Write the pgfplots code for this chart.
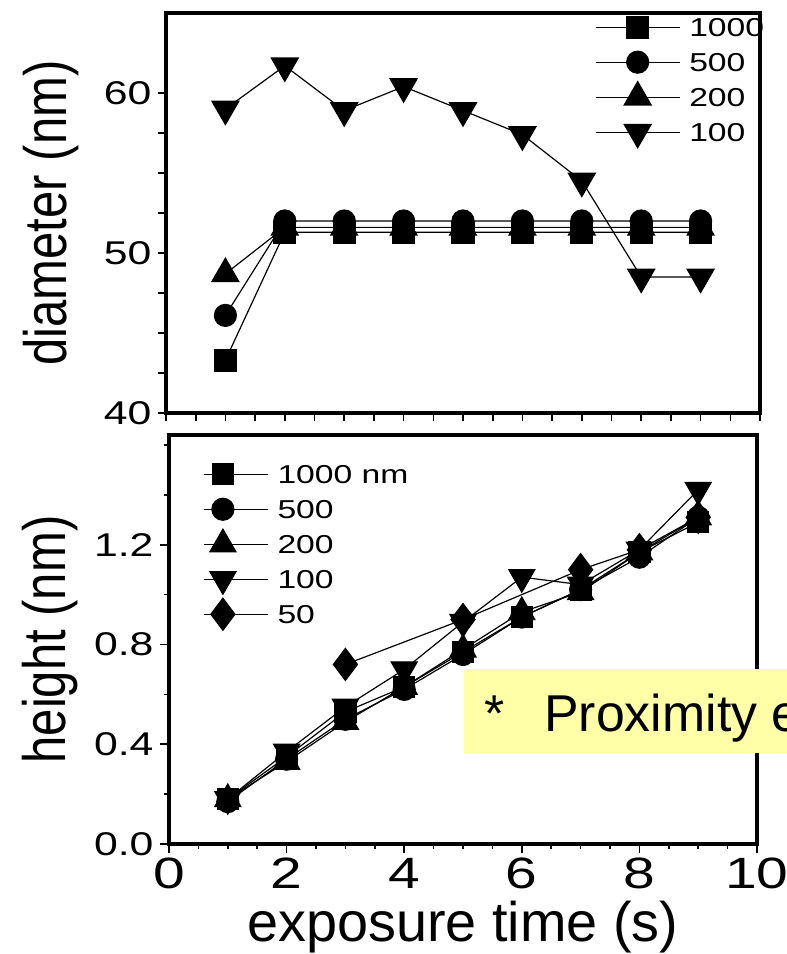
\documentclass[border=0pt]{standalone}
\usepackage{fontspec}
\setmainfont{Liberation Sans}
\newfontfamily\widefont[FakeStretch=1.3]{Liberation Sans}
\newfontfamily\narrowfont[FakeStretch=0.82]{Liberation Sans}
\usepackage{pgfplots}
\pgfplotsset{compat=1.18}
\definecolor{NoteYellow}{HTML}{FFFFA8}

\pgfplotsset{
  panel/.style={
    scale only axis,
    width=594bp,
    xmin=0, xmax=10,
    axis line style={line width=3.5bp},
    tick align=outside,
    xtick pos=bottom, ytick pos=left,
    every tick/.style={black, line width=1.6bp},
    /pgf/number format/assume math mode=true,
    xticklabel style={font=\widefont\fontsize{44}{44}\selectfont, yshift=-5bp, inner sep=0pt},
    yticklabel style={font=\widefont\fontsize{33}{33}\selectfont, xshift=-3bp},
    ylabel style={font=\narrowfont\fontsize{60}{60}\selectfont, anchor=center, inner sep=0pt},
    xlabel style={font=\fontsize{56}{56}\selectfont, anchor=center, inner sep=0pt},
    legend cell align=left,
    legend style={draw=none, fill=none, inner sep=0pt, row sep=15bp,
      font=\widefont\fontsize{26}{26}\selectfont,
      nodes={inner sep=1bp, text height=18bp, text depth=0bp},
      /tikz/every odd column/.append style={column sep=8bp}},
    every axis plot/.append style={black, line width=1.2bp},
  },
}

\begin{document}
\begin{tikzpicture}
\useasboundingbox (0,0) rectangle (787bp,954bp);

% top panel: diameter
\begin{axis}[panel,
  at={(166bp,541bp)}, anchor=south west,
  height=400bp,
  ymin=40, ymax=65,
  ytick={40,50,60}, minor y tick num=3,
  major tick length=8bp, minor tick length=8bp,
  xtick={0,...,10}, xticklabels={}, minor x tick num=1,
  ylabel={diameter (nm)},
  ylabel style={at={(axis description cs:-0.194,0.5)}},
  legend style={at={(axis description cs:0.722,0.99)}, anchor=north west},
  legend image code/.code={
    \draw[overlay, mark repeat=2, mark phase=2] plot coordinates {(0bp,0bp) (42bp,0bp) (84bp,0bp)};
    \path (0bp,0bp) -- (84bp,0bp);},
]
\addplot[mark=square*, mark size=11bp] coordinates {
  (1,43.3) (2,51.3) (3,51.3) (4,51.3) (5,51.3) (6,51.3) (7,51.3) (8,51.3) (9,51.3)};
\addplot[mark=*, mark size=11bp] coordinates {
  (1,46.1) (2,52.0) (3,52.0) (4,52.0) (5,52.0) (6,52.0) (7,52.0) (8,52.0) (9,52.0)};
\addplot[mark=triangle*, mark size=15.5bp] coordinates {
  (1,48.7) (2,51.6) (3,51.6) (4,51.6) (5,51.6) (6,51.6) (7,51.6) (8,51.6) (9,51.6)};
\addplot[mark=triangle*, mark size=15.5bp, mark options={rotate=180}] coordinates {
  (1,59.0) (2,61.7) (3,58.9) (4,60.4) (5,58.9) (6,57.4) (7,54.5) (8,48.5) (9,48.5)};
\legend{1000,500,200,100}
\end{axis}

% bottom panel: height
\begin{axis}[panel,
  at={(169bp,110bp)}, anchor=south west,
  width=588bp, height=409bp,
  ymin=0, ymax=1.64,
  ytick={0,0.4,0.8,1.2}, minor ytick={0.2,0.6,1.0,1.4,1.6},
  yticklabel style={/pgf/number format/.cd, fixed, fixed zerofill, precision=1},
  xtick={0,2,...,10}, minor x tick num=3,
  major tick length=9bp, minor tick length=5bp,
  xlabel={exposure time (s)},
  xlabel style={at={(axis description cs:0.5,-0.204)}},
  ylabel={height (nm)},
  ylabel style={at={(axis description cs:-0.202,0.5)}},
  legend style={at={(axis description cs:0.058,0.929)}, anchor=north west},
  legend image code/.code={
    \draw[overlay, mark repeat=2, mark phase=2] plot coordinates {(0bp,0bp) (19bp,0bp) (64bp,0bp)};
    \path (0bp,0bp) -- (64bp,0bp);},
]
\addplot[mark=square*, mark size=10.5bp] coordinates {
  (1,0.18) (2,0.35) (3,0.53) (4,0.63) (5,0.77) (6,0.91) (7,1.02) (8,1.17) (9,1.29)};
\addplot[mark=*, mark size=11bp] coordinates {
  (1,0.17) (2,0.34) (3,0.50) (4,0.62) (5,0.76) (6,0.91) (7,1.02) (8,1.15) (9,1.31)};
\addplot[mark=triangle*, mark size=15bp] coordinates {
  (1,0.18) (2,0.33) (3,0.49) (4,0.63) (5,0.78) (6,0.93) (7,1.01) (8,1.17) (9,1.31)};
\addplot[mark=triangle*, mark size=15bp, mark options={rotate=180}] coordinates {
  (1,0.18) (2,0.37) (3,0.55) (4,0.70) (5,0.89) (6,1.07) (7,1.04) (8,1.18) (9,1.42)};
\addplot[mark=diamond*, mark size=16bp] coordinates {
  (3,0.72) (5,0.90) (7,1.10) (8,1.18) (9,1.31)};
\legend{1000 nm,500,200,100,50}
\end{axis}

% annotation box, cut off at the right edge as in the slide
\begin{scope}
\clip (0,0) rectangle (787bp,954bp);
\fill[NoteYellow] (464bp,201bp) rectangle (800bp,285bp);
\node[anchor=base west, inner sep=0pt, font=\fontsize{52}{52}\selectfont]
  at (484bp,222bp) {*\hspace{40bp}Proximity effect};
\end{scope}
\end{tikzpicture}
\end{document}
